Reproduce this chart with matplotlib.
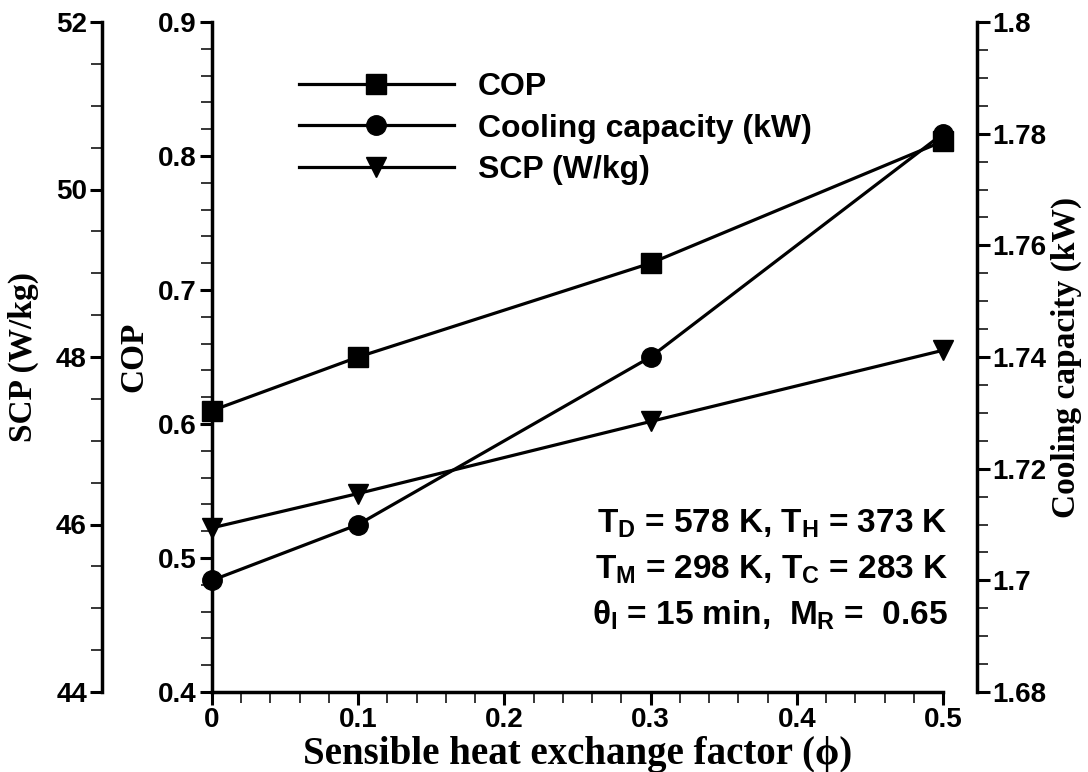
import matplotlib
matplotlib.use("Agg")
import matplotlib.pyplot as plt
from matplotlib.ticker import MultipleLocator, FuncFormatter

# Performance vs. sensible heat exchange factor
phi = [0.0, 0.1, 0.3, 0.5]
cop = [0.610, 0.650, 0.720, 0.811]
cooling_kw = [1.700, 1.710, 1.740, 1.780]
scp_w_per_kg = [45.96, 46.37, 47.23, 48.08]

series_labels = ["COP", "Cooling capacity (kW)", "SCP (W/kg)"]

x_ticks = [0.0, 0.1, 0.2, 0.3, 0.4, 0.5]
cop_ticks = [0.4, 0.5, 0.6, 0.7, 0.8, 0.9]
cap_ticks = [1.68, 1.70, 1.72, 1.74, 1.76, 1.78, 1.80]
scp_ticks = [44, 46, 48, 50, 52]

x_label = "Sensible heat exchange factor (\u03d5)"
cop_label = "COP"
cap_label = "Cooling capacity (kW)"
scp_label = "SCP (W/kg)"

conditions = [
    r"$T_D$ = 578 K, $T_H$ = 373 K",
    r"$T_M$ = 298 K, $T_C$ = 283 K",
    r"$\theta_I$ = 15 min,  $M_R$ =  0.65",
]

plt.rcParams.update({
    "font.family": ["Liberation Sans", "DejaVu Sans"],
    "font.weight": "bold",
    "mathtext.fontset": "custom",
    "mathtext.rm": "Liberation Sans:bold",
    "mathtext.it": "Liberation Sans:bold",
    "mathtext.bf": "Liberation Sans:bold",
    "axes.linewidth": 2.5,
})

W, H = 1088, 772
fig = plt.figure(figsize=(W / 100, H / 100), dpi=100)
ax = fig.add_axes([212 / W, 1 - 692 / H, (943 - 212) / W, (692 - 22) / H])
ax2 = ax.twinx()
ax3 = ax.twinx()

fmt = FuncFormatter(lambda v, p: f"{v:g}")
label_font = dict(family=["Liberation Serif", "DejaVu Serif"], weight="bold", size=24)
tick_size = 20

# main axes: COP
ax.set_xlim(0, 0.5)
ax.set_ylim(0.4, 0.9)
ax.set_xticks(x_ticks)
ax.set_yticks(cop_ticks)
ax.xaxis.set_minor_locator(MultipleLocator(0.02))
ax.yaxis.set_minor_locator(MultipleLocator(0.02))
ax.xaxis.set_major_formatter(fmt)
ax.yaxis.set_major_formatter(fmt)
ax.spines[["top", "right"]].set_visible(False)
ax.tick_params(which="major", direction="out", length=9, width=2.2,
               labelsize=tick_size, pad=2)
ax.tick_params(which="minor", direction="out", length=8, width=1.1)
ax.set_xlabel(x_label, fontdict=dict(label_font, size=28), labelpad=2)
ax.set_ylabel(cop_label, fontdict=label_font, labelpad=6)

# right axis: cooling capacity
ax2.set_ylim(1.68, 1.80)
ax2.set_yticks(cap_ticks)
ax2.yaxis.set_minor_locator(MultipleLocator(0.005))
ax2.yaxis.set_major_formatter(fmt)
ax2.spines[["top", "left", "bottom"]].set_visible(False)
ax2.spines["right"].set_position(("outward", 24.5))
ax2.tick_params(which="major", direction="out", length=9, width=2.2,
                labelsize=tick_size, pad=2)
ax2.tick_params(which="minor", direction="out", length=8, width=1.1)
ax2.set_ylabel(cap_label, fontdict=label_font, labelpad=3)

# outer left axis: SCP
ax3.set_ylim(44, 52)
ax3.set_yticks(scp_ticks)
ax3.yaxis.set_minor_locator(MultipleLocator(0.5))
ax3.yaxis.set_major_formatter(fmt)
ax3.yaxis.set_ticks_position("left")
ax3.yaxis.set_label_position("left")
ax3.spines[["top", "right", "bottom"]].set_visible(False)
ax3.spines["left"].set_visible(True)
ax3.spines["left"].set_position(("outward", 79))
ax3.tick_params(which="major", direction="out", length=9, width=2.2,
                labelsize=tick_size, pad=2)
ax3.tick_params(which="minor", direction="out", length=8, width=1.1)
ax3.set_ylabel(scp_label, fontdict=label_font, labelpad=12)

line_kw = dict(color="black", lw=2.3, clip_on=False)
h1, = ax.plot(phi, cop, marker="s", ms=14, label=series_labels[0], **line_kw)
h2, = ax2.plot(phi, cooling_kw, marker="o", ms=14, label=series_labels[1], **line_kw)
h3, = ax3.plot(phi, scp_w_per_kg, marker="v", ms=14, label=series_labels[2], **line_kw)

fig.legend(handles=[h1, h2, h3], loc="upper left",
           bbox_to_anchor=(299 / W, 1 - 72 / H), frameon=False,
           borderpad=0, borderaxespad=0, handlelength=4.85,
           handletextpad=0.75, labelspacing=0.36,
           prop=dict(family="Liberation Sans", weight="bold", size=23))

for text, base in zip(conditions, [533, 579, 625]):
    fig.text(948 / W, 1 - base / H, text, ha="right", va="baseline",
             fontsize=24, fontweight="bold")

fig.savefig("out.png", dpi=100)
